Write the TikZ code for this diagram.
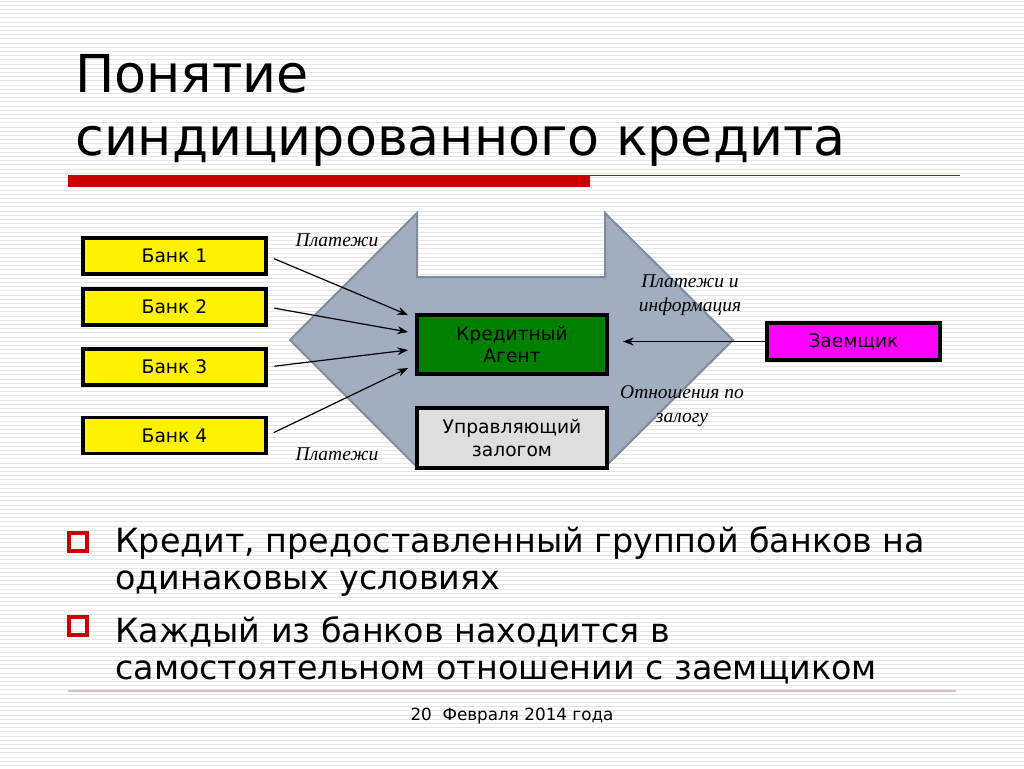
\documentclass[tikz,border=0pt]{standalone}
\usepackage{fontspec}
\setmainfont{DejaVu Sans}
\newfontfamily\tnr{Liberation Serif}
\usetikzlibrary{arrows.meta}
\definecolor{shapefill}{RGB}{161,174,191}
\definecolor{shapeedge}{RGB}{128,140,156}
\definecolor{kagreen}{RGB}{0,128,0}
\definecolor{uzgray}{RGB}{222,222,222}
\definecolor{redbar}{RGB}{204,0,0}
\definecolor{footline}{RGB}{214,190,190}
\definecolor{zmag}{RGB}{255,0,255}
\tikzset{
  stripe/.style={draw=black!10, line width=0.75pt},
  box/.style={draw=black, line width=2.6pt, inner sep=0pt, align=center, font=\fontsize{14}{17}\selectfont},
  bank/.style={box, fill=yellow, minimum width=183*0.75pt, minimum height=36*0.75pt},
  arr/.style={-{Stealth[length=8pt,width=6pt]}, line width=0.9pt},
  lbl/.style={font=\tnr\itshape\fontsize{14.6}{18}\selectfont, align=center, inner sep=0pt},
  bullet/.style={draw=redbar, line width=2.4pt},
  btext/.style={anchor=base west, inner sep=0pt, font=\fontsize{25}{28}\selectfont}
}
\begin{document}
\begin{tikzpicture}[x=0.75pt,y=-0.75pt]
\useasboundingbox (0,0) rectangle (1024,768);
\fill[white] (0,0) rectangle (1024,768);
\foreach \k in {0,...,183} \draw[stripe] (0,{1+\k*4.2}) -- (1024,{1+\k*4.2});
% title
\node[anchor=base west, inner sep=0pt, font=\fontsize{39.2}{46}\selectfont] (t1) at (75,92) {Понятие};
\node[anchor=base west, inner sep=0pt, font=\fontsize{39.2}{46}\selectfont] (t2) at (75,155) {синдицированного кредита};
\fill[redbar] (68,175) rectangle (590,187);
\draw[redbar, line width=1pt] (590,175.5) -- (960,175.5);
% big gray double arrow shape
\draw[fill=shapefill, draw=shapeedge, line width=1.5pt, line join=miter]
  (290,340) -- (417,213) -- (417,277) -- (605,277) -- (605,213) -- (733,340) -- (605,467) -- (417,467) -- cycle;
% nodes
\node[bank] (b1) at (174.5,256) {Банк 1};
\node[bank] (b2) at (174.5,307) {Банк 2};
\node[bank] (b3) at (174.5,367) {Банк 3};
\node[bank] (b4) at (174.5,435.5) {Банк 4};
\node[box, fill=kagreen, minimum width=190*0.75pt, minimum height=59*0.75pt] (ka) at (512,344.5) {Кредитный\\Агент};
\node[box, fill=uzgray, minimum width=190*0.75pt, minimum height=60*0.75pt] (uz) at (512,438) {Управляющий\\залогом};
\node[box, fill=zmag, minimum width=173*0.75pt, minimum height=37*0.75pt] (z) at (853.5,341.5) {Заемщик};
% arrow targets
\coordinate (e1) at (408,315);
\coordinate (e2) at (408,332);
\coordinate (e3) at (408,350);
\coordinate (e4) at (408,368);
\coordinate (e5) at (623,341.5);
\draw[arr, shorten <=5pt] (b1.east) -- (e1);
\draw[arr, shorten <=5pt] (b2.east) -- (e2);
\draw[arr, shorten <=5pt] (b3.east) -- (e3);
\draw[arr, shorten <=5pt] (b4.east) -- (e4);
\draw[arr] (z.west) -- (e5);
% labels
\node[lbl] (l1) at (337,240) {Платежи};
\node[lbl] (l2) at (337,454) {Платежи};
\node[lbl] (l3) at (690,295) {Платежи и\\информация};
\node[lbl] (l4) at (682,406) {Отношения по\\залогу};
% bullets
\draw[bullet] (69,533) rectangle (87,551);
\draw[bullet] (69,617) rectangle (87,635);
\node[btext] (p1) at (115,552) {Кредит, предоставленный группой банков на};
\node[btext] (p2) at (115,589) {одинаковых условиях};
\node[btext] (p3) at (115,642) {Каждый из банков находится в};
\node[btext] (p4) at (115,679) {самостоятельном отношении с заемщиком};
% footer
\draw[footline, line width=1pt] (68,691) -- (956,691);
\node[inner sep=0pt, font=\fontsize{12.6}{14}\selectfont] (f) at (512,716) {20\ \ Февраля 2014 года};
\end{tikzpicture}
\end{document}
